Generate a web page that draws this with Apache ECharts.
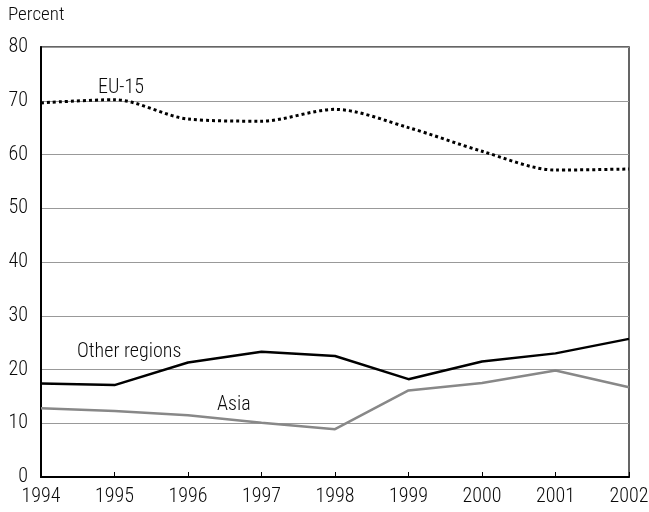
<!DOCTYPE html>
<html>
<head>
<meta charset="utf-8">
<script src="https://cdn.jsdelivr.net/npm/echarts@6/dist/echarts.min.js"></script>
<style>html,body{margin:0;padding:0;background:#fff}#c{width:649px;height:512px}</style>
</head>
<body>
<div id="c"></div>
<script>
const years = ['1994','1995','1996','1997','1998','1999','2000','2001','2002'];
const eu15 = [69.6, 70.2, 66.6, 66.2, 68.4, 65.0, 60.6, 57.1, 57.3];
const otherRegions = [17.4, 17.1, 21.3, 23.3, 22.5, 18.2, 21.5, 23.0, 25.7];
const asia = [12.8, 12.3, 11.5, 10.1, 8.9, 16.1, 17.5, 19.8, 16.7];
const yTicks = [0, 10, 20, 30, 40, 50, 60, 70, 80];

const FONT = "'Roboto Condensed', 'Liberation Sans', Arial, sans-serif";
const W = 350;
const TC = '#0a0a0a';
const chart = echarts.init(document.getElementById('c'), null, {renderer: 'canvas'});
chart.setOption({
  animation: false,
  backgroundColor: '#fff',
  grid: {left: 41, right: 20, top: 47, bottom: 35, show: true, borderColor: '#333', borderWidth: 1.5, backgroundColor: 'transparent', outerBoundsMode: 'none'},
  xAxis: {
    type: 'category', data: years, boundaryGap: false,
    axisLine: {lineStyle: {color: '#000', width: 2}},
    axisTick: {inside: true, length: 5, lineStyle: {color: '#000', width: 1}},
    axisLabel: {color: TC, fontSize: 20, fontWeight: W, fontFamily: FONT, margin: 10},
    splitLine: {show: false}
  },
  yAxis: {
    type: 'value', min: yTicks[0], max: yTicks[yTicks.length - 1], interval: 10,
    axisLine: {show: true, lineStyle: {color: '#000', width: 2}},
    axisTick: {show: false},
    axisLabel: {color: TC, fontSize: 20, fontWeight: W, fontFamily: FONT, margin: 13},
    splitLine: {show: true, lineStyle: {color: '#999', width: 1}}
  },
  graphic: [
    {type: 'text', left: 8, top: 6, style: {text: 'Percent', fontSize: 19, fontWeight: W, fontFamily: FONT, fill: TC}},
    {type: 'text', left: 98, top: 78, style: {text: 'EU-15', fontSize: 20, fontWeight: W, fontFamily: FONT, fill: TC}},
    {type: 'text', left: 77, top: 342, style: {text: 'Other regions', fontSize: 20, fontWeight: W, fontFamily: FONT, fill: TC}},
    {type: 'text', left: 217, top: 395, style: {text: 'Asia', fontSize: 20, fontWeight: W, fontFamily: FONT, fill: TC}}
  ],
  series: [
    {name: 'EU-15', type: 'line', data: eu15, smooth: 0.3, symbol: 'none',
     lineStyle: {color: '#000', width: 3, type: [3, 3]}},
    {name: 'Other regions', type: 'line', data: otherRegions, symbol: 'none',
     lineStyle: {color: '#000', width: 2.5}},
    {name: 'Asia', type: 'line', data: asia, symbol: 'none',
     lineStyle: {color: '#888', width: 2.5}}
  ]
});
</script>
</body>
</html>
